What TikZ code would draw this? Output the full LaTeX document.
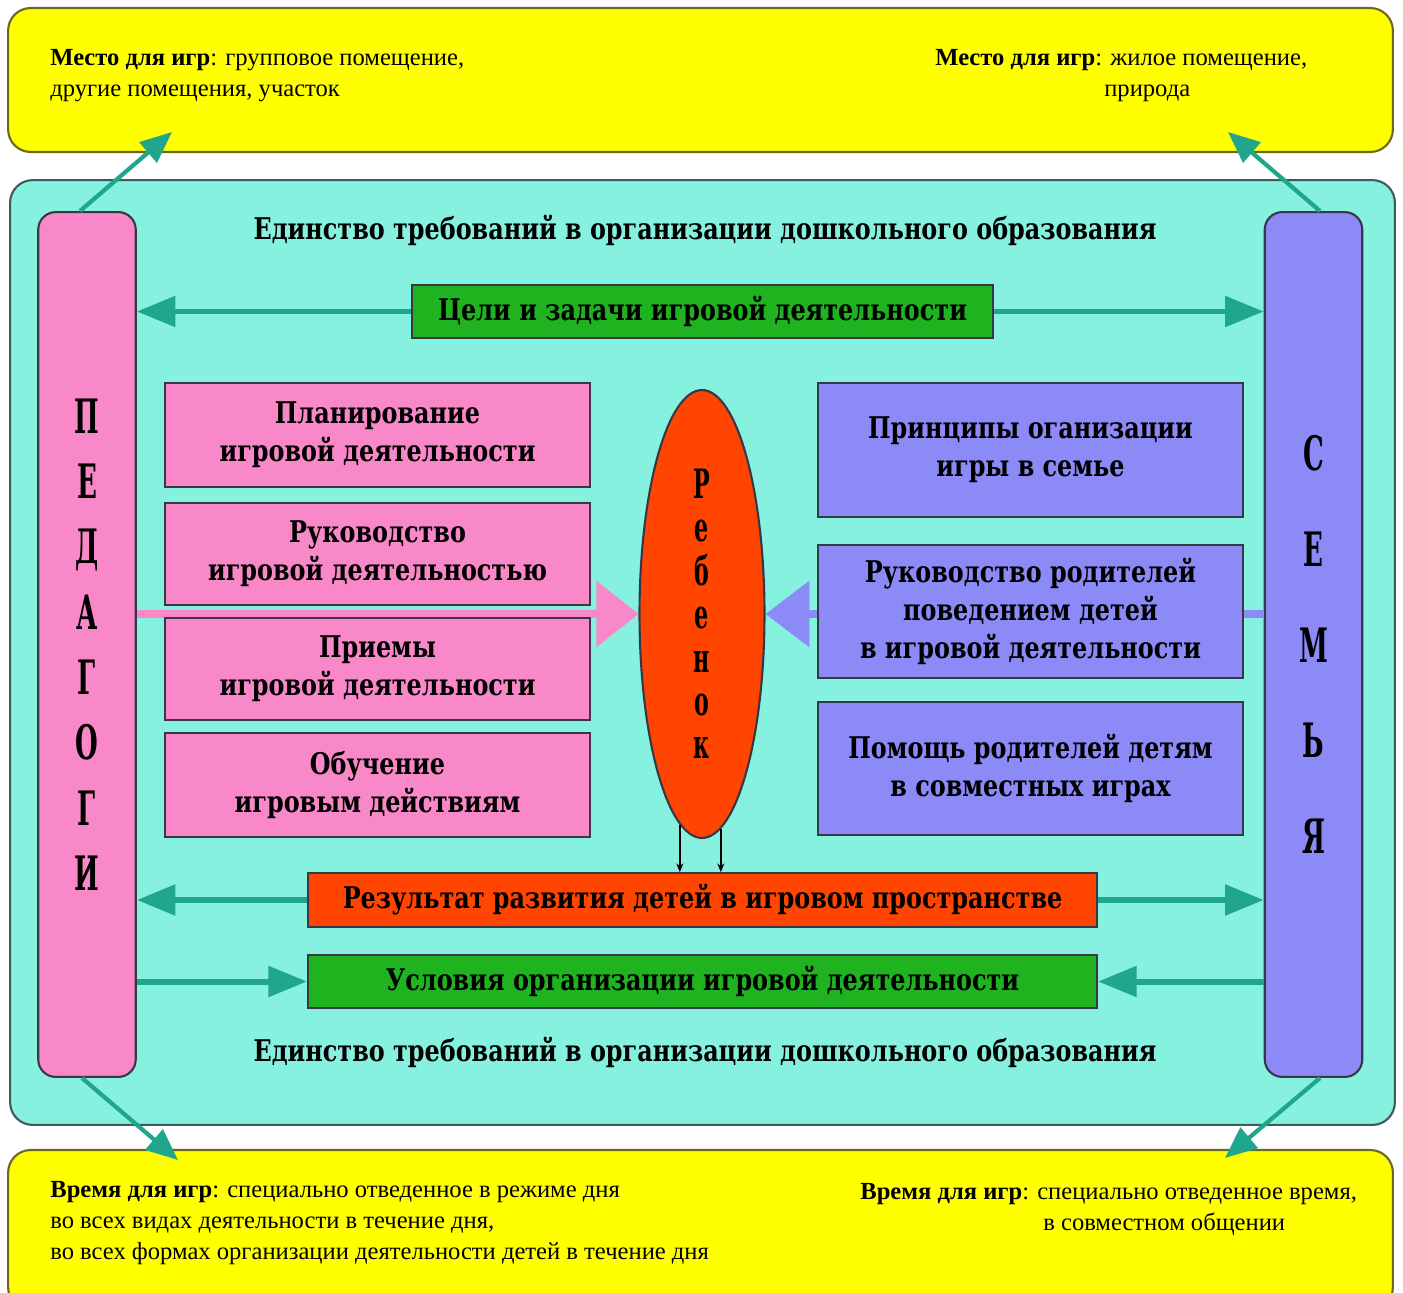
\documentclass[tikz,border=0pt]{standalone}
\usepackage{fontspec}
\setmainfont{Liberation Serif}
\newfontfamily\headfont{DejaVu Serif}[FakeStretch=0.8]
\newfontfamily\tallfont{DejaVu Serif}[FakeStretch=0.55]
\usetikzlibrary{shapes.geometric,arrows.meta}

\definecolor{yellowfill}{RGB}{255,255,0}
\definecolor{yellowline}{RGB}{110,104,30}
\definecolor{cyanfill}{RGB}{135,241,224}
\definecolor{cyanline}{RGB}{60,92,92}
\definecolor{pinkfill}{RGB}{248,136,200}
\definecolor{purplefill}{RGB}{140,138,247}
\definecolor{greenfill}{RGB}{31,179,31}
\definecolor{orangefill}{RGB}{255,69,0}
\definecolor{tealarrow}{RGB}{32,166,140}
\definecolor{boxline}{RGB}{55,55,70}

\begin{document}
\begin{tikzpicture}[x=0.02cm,y=-0.02cm]
    % Define styles for shapes
    \tikzstyle{yellowbox} = [draw=yellowline, line width=1.2pt, fill=yellowfill, rounded corners=0.45cm, minimum width=27.7cm]
    \tikzstyle{sidebox} = [draw=boxline, line width=1.2pt, rounded corners=0.35cm, minimum width=1.95cm, minimum height=17.3cm, align=center, inner sep=0pt]
    \tikzstyle{itembox} = [draw=boxline, line width=1.2pt, minimum width=8.5cm, align=center, font=\headfont\bfseries\fontsize{17}{21.5}\selectfont]
    \tikzstyle{barbox} = [draw=boxline, line width=1.2pt, minimum height=1.07cm, align=center, font=\headfont\bfseries\fontsize{17}{21.5}\selectfont]
    \tikzstyle{yellowtext} = [inner sep=0pt, anchor=north west, align=left, font=\fontsize{14}{17.6}\selectfont]
    \tikzstyle{teal} = [draw=tealarrow, line width=3.4pt, -{Triangle[length=22pt,width=17pt]}]
    \tikzstyle{tealdiag} = [draw=tealarrow, line width=2.4pt, -{Triangle[length=18pt,width=15pt]}]

    \useasboundingbox (0,0) rectangle (1403,1292);

    % Yellow boxes with place and time
    \node[yellowbox, minimum height=2.88cm] (placeBox) at (700.5,80) {};
    \node[yellowbox, minimum height=3.2cm] (timeBox) at (700.5,1230) {};
    \node[yellowtext] (placeLeft) at (50,49) {\textbf{Место для игр}: групповое помещение,\\другие помещения, участок};
    \node[yellowtext] (placeRight) at (935,49) {\textbf{Место для игр}: жилое помещение,\\\hspace*{3.38cm}природа};
    \node[yellowtext] (timeLeft) at (50,1181) {\textbf{Время для игр}: специально отведенное в режиме дня\\во всех видах деятельности в течение дня,\\во всех формах организации деятельности детей в течение дня};
    \node[yellowtext] (timeRight) at (860,1183) {\textbf{Время для игр}: специально отведенное время,\\\hspace*{3.66cm}в совместном общении};

    % Main field
    \node[draw=cyanline, line width=1.2pt, fill=cyanfill, rounded corners=0.45cm, minimum width=27.7cm, minimum height=18.9cm] (field) at (702.5,652.5) {};
    \node[font=\headfont\bfseries\fontsize{17}{21.5}\selectfont] (unityTop) at (705,230) {Единство требований в организации дошкольного образования};
    \node[font=\headfont\bfseries\fontsize{17}{21.5}\selectfont] (unityBot) at (705,1052) {Единство требований в организации дошкольного образования};

    % Teachers and family
    \node[sidebox, fill=pinkfill, font=\tallfont\bfseries\fontsize{27}{37.2}\selectfont] (teachers) at (87,644.5) {П\\Е\\Д\\А\\Г\\О\\Г\\И};
    \node[sidebox, fill=purplefill, font=\tallfont\bfseries\fontsize{27}{54.4}\selectfont] (family) at (1313.5,644.5) {С\\Е\\М\\Ь\\Я};

    % Child
    \node[ellipse, draw=boxline, line width=1.2pt, fill=orangefill, minimum width=2.5cm, minimum height=8.96cm, inner sep=0pt, align=center, font=\tallfont\bfseries\fontsize{23}{24.7}\selectfont] (child) at (702,614) {Р\\е\\б\\е\\н\\о\\к};

    % Big arrows to the child, behind the boxes
    \draw[draw=pinkfill, line width=4pt, -{Triangle[length=24pt,width=37pt]}] (teachers.east |- child.west) -- (child.west);
    \draw[draw=purplefill, line width=4pt, -{Triangle[length=25pt,width=37pt]}] (family.west |- child.east) -- (child.east);

    % Bars
    \node[barbox, fill=greenfill, minimum width=11.62cm] (goals) at (702.5,311.5) {Цели и задачи игровой деятельности};
    \node[barbox, fill=orangefill, minimum width=15.78cm] (result) at (702.5,900) {Результат развития детей в игровом пространстве};
    \node[barbox, fill=greenfill, minimum width=15.78cm] (conditions) at (702.5,981.5) {Условия организации игровой деятельности};

    % Teacher side
    \node[itembox, fill=pinkfill, minimum height=2.08cm] (planning) at (377.5,435) {Планирование\\игровой деятельности};
    \node[itembox, fill=pinkfill, minimum height=2.04cm] (guidance) at (377.5,554) {Руководство\\игровой деятельностью};
    \node[itembox, fill=pinkfill, minimum height=2.04cm] (methods) at (377.5,669) {Приемы\\игровой деятельности};
    \node[itembox, fill=pinkfill, minimum height=2.08cm] (teaching) at (377.5,785) {Обучение\\игровым действиям};

    % Family side
    \node[itembox, fill=purplefill, minimum height=2.68cm] (principles) at (1030.5,450) {Принципы оганизации\\игры в семье};
    \node[itembox, fill=purplefill, minimum height=2.66cm] (parents) at (1030.5,611.5) {Руководство родителей\\поведением детей\\в игровой деятельности};
    \node[itembox, fill=purplefill, minimum height=2.66cm] (help) at (1030.5,768.5) {Помощь родителей детям\\в совместных играх};

    % Arrows inside the field
    \draw[teal] (goals.west) -- (goals.west -| teachers.east);
    \draw[teal] (goals.east) -- (goals.east -| family.west);
    \draw[teal] (result.west) -- (result.west -| teachers.east);
    \draw[teal] (result.east) -- (result.east -| family.west);
    \draw[teal] (conditions.west -| teachers.east) -- (conditions.west);
    \draw[teal] (conditions.east -| family.west) -- (conditions.east);
    \draw[line width=0.8pt, -{Stealth[length=5pt,width=4pt]}] (child.264.6) -- (child.264.6 |- result.north);
    \draw[line width=0.8pt, -{Stealth[length=5pt,width=4pt]}] (child.275.4) -- (child.275.4 |- result.north);

    % Arrows to place and time
    \coordinate (placeTL) at (172,132);
    \coordinate (placeTR) at (1228,132);
    \coordinate (timeBL) at (178,1160);
    \coordinate (timeBR) at (1225,1158);
    \draw[tealdiag] ([xshift=-0.14cm]teachers.north) -- (placeTL);
    \draw[tealdiag] ([xshift=0.13cm]family.north) -- (placeTR);
    \draw[tealdiag] ([xshift=-0.1cm]teachers.south) -- (timeBL);
    \draw[tealdiag] ([xshift=0.13cm]family.south) -- (timeBR);

\end{tikzpicture}
\end{document}
